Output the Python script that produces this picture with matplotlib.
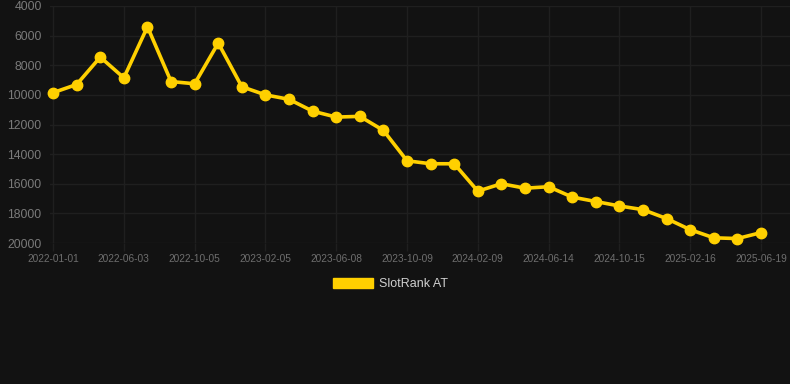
import matplotlib
matplotlib.use('Agg')
import matplotlib.pyplot as plt
from matplotlib.patches import Patch

# rank values, one per sample (31 samples), y axis is inverted
rank = [9850, 9300, 7450, 8850, 5400, 9100, 9250, 6500, 9450, 10000,
        10300, 11100, 11500, 11450, 12400, 14450, 14650, 14650, 16500, 16000,
        16300, 16200, 16900, 17200, 17500, 17750, 18350, 19100, 19650, 19700,
        19300]
# only every 3rd sample carries a date label
tick_labels = ['2022-01-01', '2022-06-03', '2022-10-05', '2023-02-05', '2023-06-08',
               '2023-10-09', '2024-02-09', '2024-06-14', '2024-10-15', '2025-02-16',
               '2025-06-19']
y_ticks = [4000, 6000, 8000, 10000, 12000, 14000, 16000, 18000, 20000]
series_name = 'SlotRank AT'

bg = '#121212'
gold = '#FFD000'
grid_c = '#1f1f1f'

plt.rcParams['font.family'] = ['Liberation Sans', 'DejaVu Sans']

fig = plt.figure(figsize=(7.9, 3.84), dpi=100, facecolor=bg)
ax = fig.add_axes([50 / 790, 1 - 243 / 384, 740 / 790, 237 / 384])
ax.set_facecolor(bg)

x = list(range(len(rank)))
ax.plot(x, rank, color=gold, lw=2.6, marker='o', ms=7.5, mfc=gold, mec=gold,
        solid_joinstyle='round', zorder=3, clip_on=False)

ax.set_xlim(-0.13, len(rank) - 1 + 1.23)
ax.set_ylim(20000, 4000)
ax.set_yticks(y_ticks)
ax.set_yticklabels([str(v) for v in y_ticks])
ax.set_xticks(x[::3])
ax.set_xticklabels(tick_labels)

ax.grid(True, color=grid_c, lw=1)
ax.set_axisbelow(True)
for s in ax.spines.values():
    s.set_visible(False)
ax.tick_params(axis='y', colors='#7a7a7a', labelsize=8.8, length=0, pad=6)
ax.tick_params(axis='x', colors=grid_c, labelcolor='#6e6e6e', labelsize=7.3,
               length=6, width=1, pad=2)

fig.legend(handles=[Patch(facecolor=gold, edgecolor=gold)], labels=[series_name],
           loc='center', bbox_to_anchor=(0.494, 0.26), frameon=False,
           fontsize=9, labelcolor='#cfcfcf', handlelength=3.2, handleheight=0.9,
           handletextpad=0.5)

fig.savefig('out.png', dpi=100, facecolor=bg)
